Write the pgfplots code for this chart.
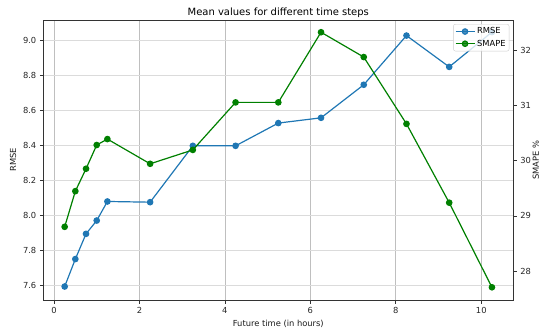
\documentclass[border=0pt]{standalone}
\usepackage{pgfplots}
\pgfplotsset{compat=1.18}
\usepackage{fontspec}
\setmainfont{DejaVu Sans}
\definecolor{rmse}{HTML}{1F77B4}
\definecolor{smape}{HTML}{008000}
\begin{document}
\begin{tikzpicture}[x=1pt,y=1pt]
\useasboundingbox (-43.3,-30) rectangle (500.7,300);
\pgfplotsset{
  every axis/.append style={
    scale only axis, width=470pt, height=280pt,
    at={(0,0)}, anchor=south west,
    xmin=-0.25, xmax=10.75,
    font=\fontsize{8.33}{10}\selectfont,
    tick align=outside, major tick length=3.5pt,
    every tick/.style={black!80, line width=0.7pt},
    axis line style={black!80, line width=0.7pt},
    /pgf/number format/assume math mode=true,
    tick label style={black!85},
    label style={black!90},
  }
}
\begin{axis}[
  ymin=7.519, ymax=9.119,
  xtick={0,2,4,6,8,10},
  ytick={7.6,7.8,8.0,8.2,8.4,8.6,8.8,9.0},
  yticklabel style={/pgf/number format/.cd, fixed, fixed zerofill, precision=1},
  xtick pos=bottom, ytick pos=left,
  xmajorgrids, ymajorgrids,
  x grid style={black!25, line width=0.7pt},
  y grid style={black!14, line width=1pt},
  xlabel={Future time (in hours)},
  ylabel={RMSE},
  title={Mean values for different time steps},
  title style={font=\fontsize{10}{12}\selectfont, black, yshift=-7pt},
]
\addplot[color=rmse, line width=1.2pt, mark=*, mark size=2.7pt] coordinates {
(0.25,7.596) (0.5,7.753) (0.75,7.897) (1.0,7.973) (1.25,8.082)
(2.25,8.078) (3.25,8.400) (4.25,8.400) (5.25,8.530) (6.25,8.560)
(7.25,8.749) (8.25,9.030) (9.25,8.851) (10.25,9.050)
};
\end{axis}
\begin{axis}[
  ymin=27.473, ymax=32.557,
  axis x line=none,
  axis y line*=right,
  ytick={28,29,30,31,32},
  ylabel={SMAPE \%},
  ylabel shift=-5pt,
  legend style={at={(0.9915,0.9857)}, anchor=north east,
    draw=black!20, rounded corners=2pt, fill=white, fill opacity=0.8, text opacity=1,
    font=\fontsize{8.33}{10}\selectfont, inner sep=1.5pt, row sep=0.5pt},
  legend cell align=left,
  legend image code/.code={\draw[mark repeat=2,mark phase=2] plot coordinates {(0pt,0pt) (9.5pt,0pt) (19pt,0pt)};},
]
\addlegendimage{color=rmse, line width=1.2pt, mark=*, mark size=2.7pt}
\addlegendentry{RMSE}
\addplot[color=smape, line width=1.2pt, mark=*, mark size=2.7pt] coordinates {
(0.25,28.802) (0.5,29.449) (0.75,29.856) (1.0,30.287) (1.25,30.395)
(2.25,29.946) (3.25,30.198) (4.25,31.061) (5.25,31.061) (6.25,32.335)
(7.25,31.884) (8.25,30.671) (9.25,29.240) (10.25,27.704)
};
\addlegendentry{SMAPE}
\end{axis}
\end{tikzpicture}
\end{document}
